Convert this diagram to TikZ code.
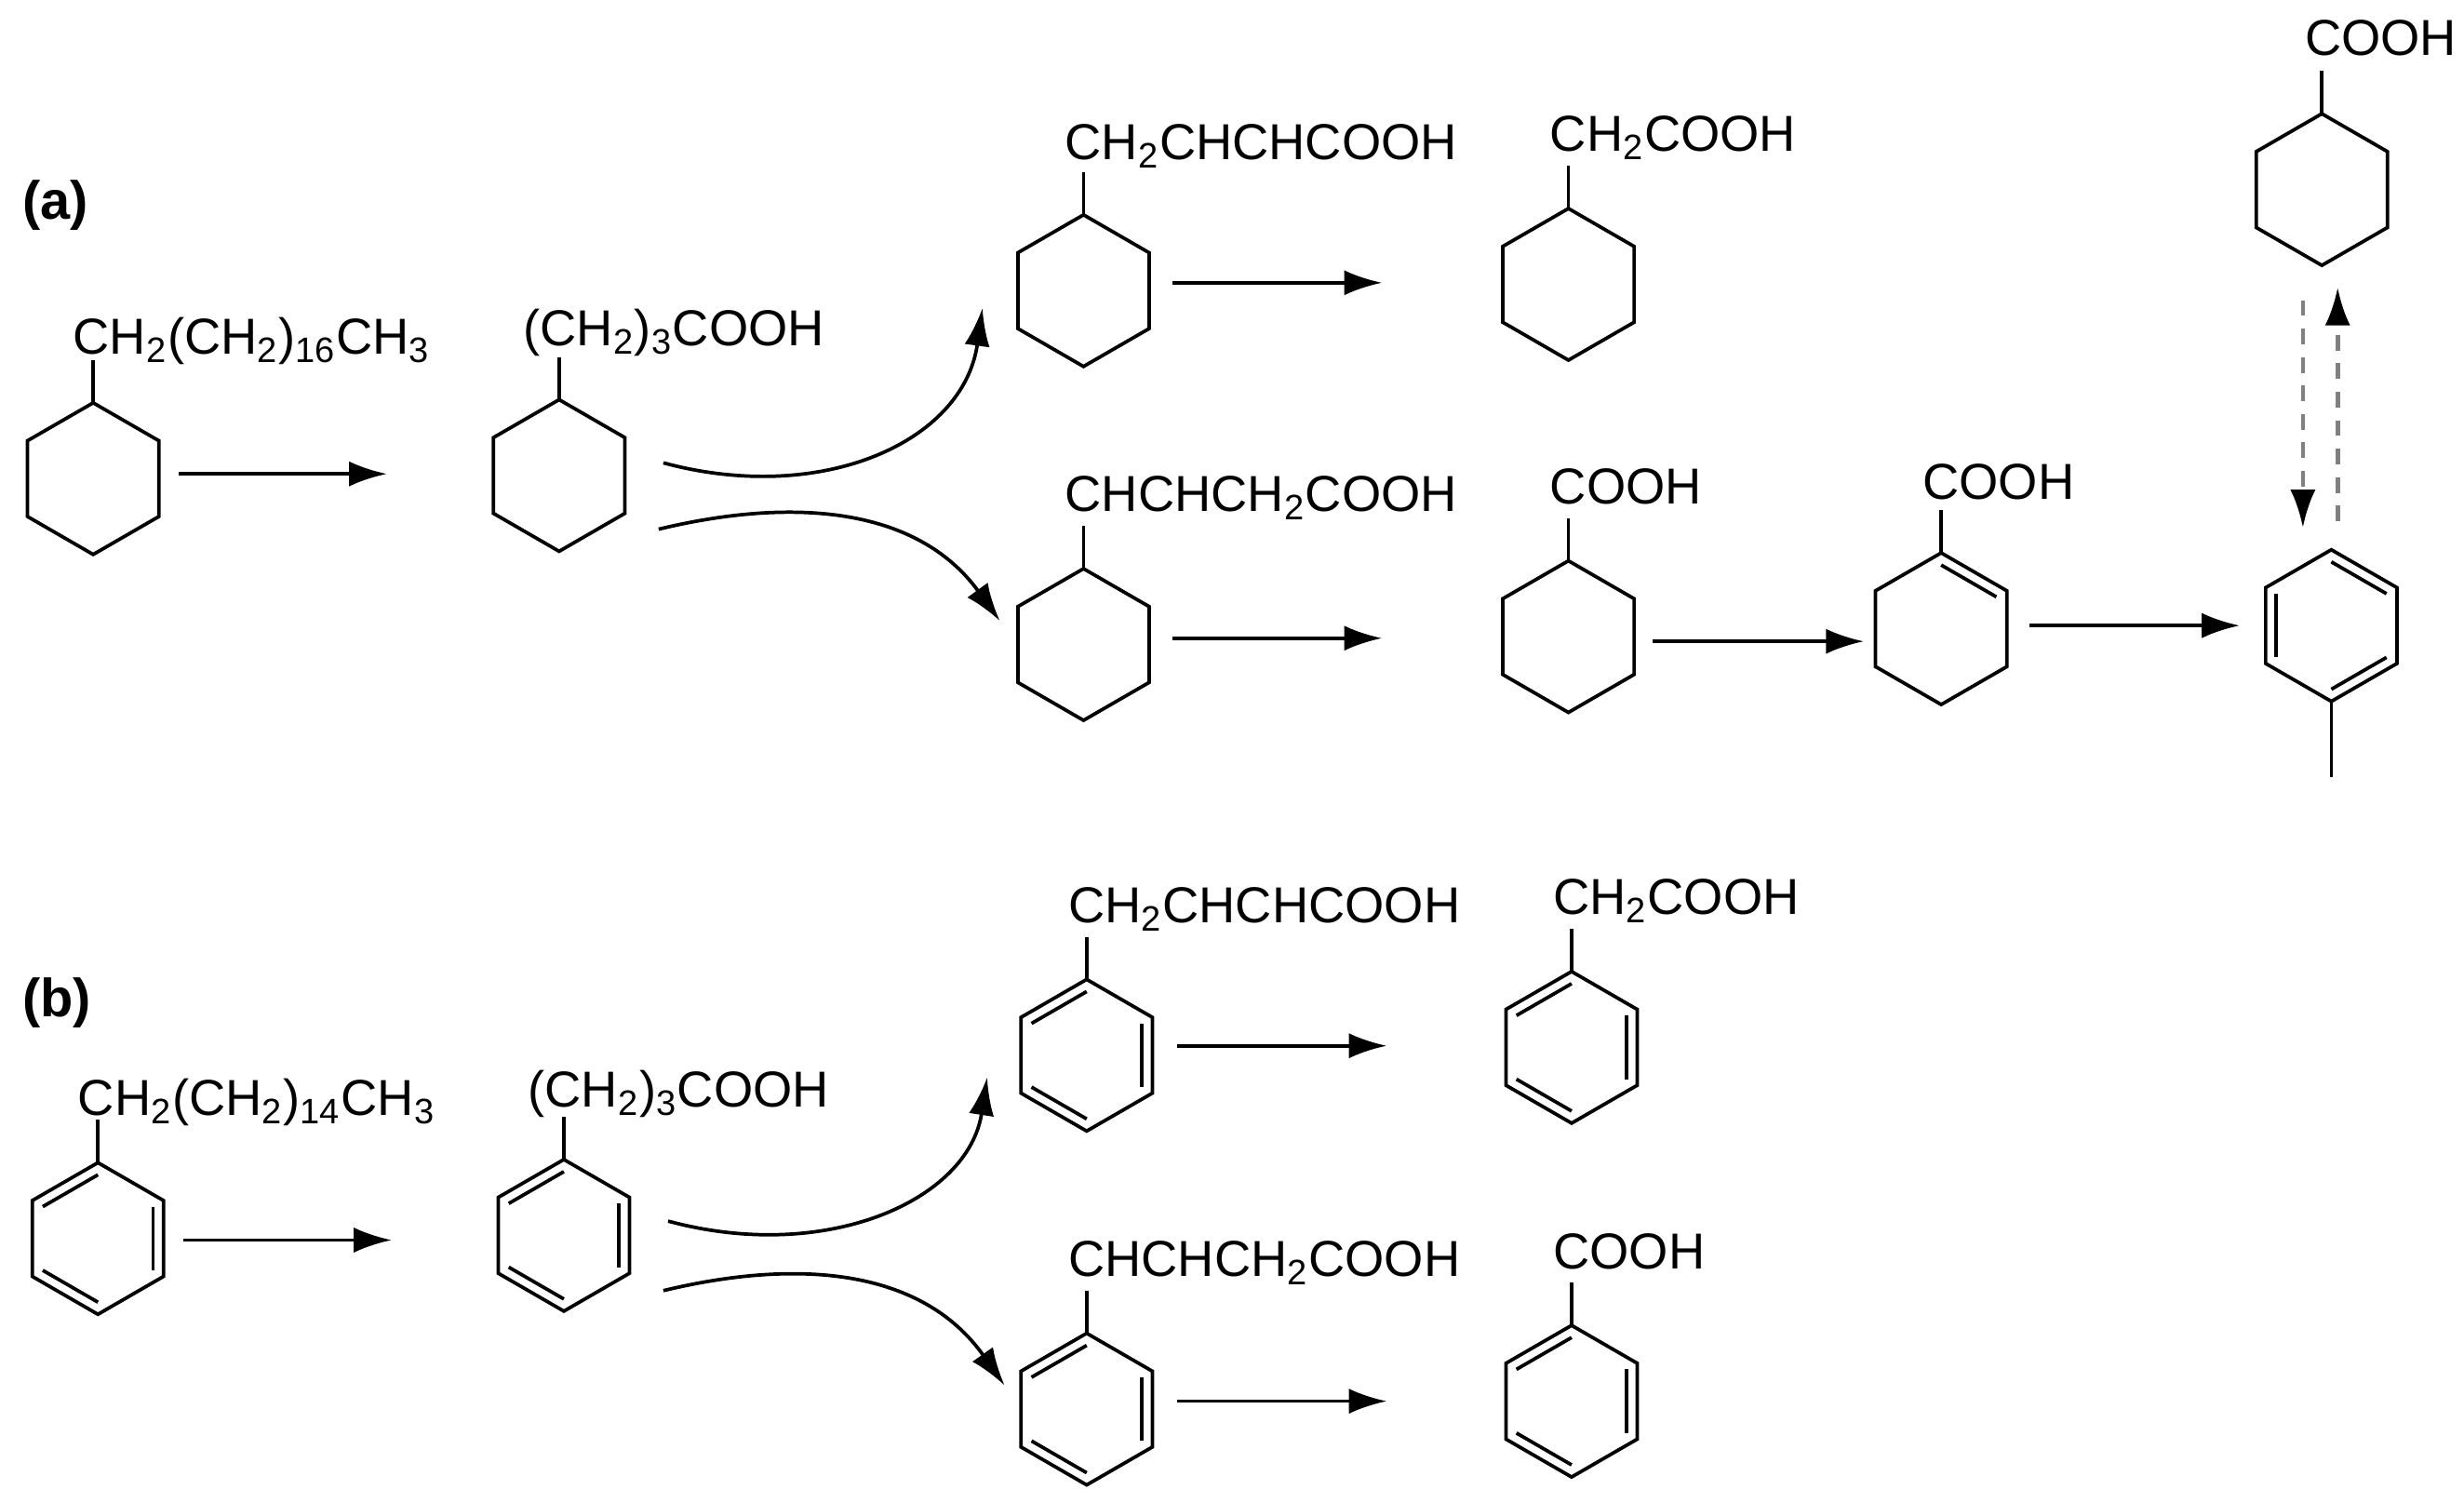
\documentclass[tikz,border=0pt]{standalone}
\usepackage{fontspec}
\setmainfont{Liberation Sans}
\usetikzlibrary{arrows.meta,calc}
\newcommand{\chsub}[1]{\textsubscript{#1}}
\newcommand{\hexring}[3]{%
  \coordinate (#1) at (#2,#3);
  \draw[bond] ($(#1)+(0,-48)$) -- ++(30:48) -- ++(90:48) -- ++(150:48) -- ++(210:48) -- ++(270:48) -- cycle;
  \coordinate (#1-t) at ($(#1)+(0,-48)$);
  \coordinate (#1-b) at ($(#1)+(0,48)$);
  \coordinate (#1-tr) at ($(#1)+(41.57,-24)$);
  \coordinate (#1-br) at ($(#1)+(41.57,24)$);
  \coordinate (#1-tl) at ($(#1)+(-41.57,-24)$);
  \coordinate (#1-bl) at ($(#1)+(-41.57,24)$);
}
\newcommand{\inner}[3]{%
  \draw[bond] ($(#1)!0.84!(#2)$) -- ($(#1)!0.84!(#3)$);}
\tikzset{x=0.5pt,y=-0.5pt,
  bond/.style={line width=1.1pt,line join=miter},
  rx/.style={line width=1.1pt,-{Latex[length=12pt,width=8pt]}},
  dx/.style={line width=1.4pt,gray,dash pattern=on 5pt off 4pt,-{Latex[length=12pt,width=8pt,color=black]}},
  lab/.style={font=\fontsize{16}{18}\selectfont,inner sep=0pt},
  tag/.style={font=\fontsize{17}{19}\selectfont\bfseries,inner sep=0pt,anchor=west}}
\begin{document}
\begin{tikzpicture}
\useasboundingbox (0,0) rectangle (1560,951);
\node[tag] (ta) at (14,130) {(a)};
\node[tag] (tb) at (14,635) {(b)};
% ---- (a)
\hexring{a1}{59}{303}
\hexring{a2}{354}{301}
\hexring{a3}{686}{184}
\hexring{a4}{993}{180}
\hexring{a5}{686}{408}
\hexring{a6}{993}{403}
\hexring{a7}{1229}{398}
\hexring{a8}{1476}{396}
\hexring{a9}{1470}{120}
\foreach \r in {a1,a2,a3,a4,a5,a6,a7,a9}{\draw[bond] (\r-t) -- ++(0,-27) coordinate (\r-s);}
\draw[bond] (a8-b) -- ++(0,48) coordinate (a8-m);
\inner{a7}{a7-t}{a7-tr}
\inner{a8}{a8-t}{a8-tr}
\inner{a8}{a8-tl}{a8-bl}
\inner{a8}{a8-br}{a8-b}
\node[lab,anchor=base west] (la1) at (46,224) {CH\chsub{2}(CH\chsub{2})\chsub{16}CH\chsub{3}};
\node[lab,anchor=base west] (la2) at (331,219) {(CH\chsub{2})\chsub{3}COOH};
\node[lab,anchor=base west] (la3) at (674,101) {CH\chsub{2}CHCHCOOH};
\node[lab,anchor=base west] (la4) at (981,96) {CH\chsub{2}COOH};
\node[lab,anchor=base west] (la5) at (674,324) {CHCHCH\chsub{2}COOH};
\node[lab,anchor=base west] (la6) at (981,319) {COOH};
\node[lab,anchor=base west] (la7) at (1217,316) {COOH};
\node[lab,anchor=base west] (la9) at (1459,35) {COOH};
\coordinate (p1) at (113,300); \coordinate (p2) at (245,300);
\draw[rx] (p1) -- (p2);
\coordinate (c1) at (420,293); \coordinate (c2) at (622,195);
\draw[rx] (c1) .. controls (520,320) and (610,280) .. (c2);
\coordinate (c3) at (417,335); \coordinate (c4) at (633,393);
\draw[rx] (c3) .. controls (500,315) and (580,320) .. (c4);
\coordinate (p3) at (742,179); \coordinate (p4) at (875,179);
\draw[rx] (p3) -- (p4);
\coordinate (p5) at (742,404); \coordinate (p6) at (875,404);
\draw[rx] (p5) -- (p6);
\coordinate (p7) at (1046,406); \coordinate (p8) at (1180,406);
\draw[rx] (p7) -- (p8);
\coordinate (p9) at (1285,396); \coordinate (p10) at (1418,396);
\draw[rx] (p9) -- (p10);
\coordinate (d1) at (1458,190); \coordinate (d2) at (1458,334);
\draw[dx] (d1) -- (d2);
\coordinate (d3) at (1480,330); \coordinate (d4) at (1480,182);
\draw[dx] (d3) -- (d4);
% ---- (b)
\hexring{b1}{62}{784}
\hexring{b2}{357}{782}
\hexring{b3}{688}{668}
\hexring{b4}{995}{663}
\hexring{b5}{688}{892}
\hexring{b6}{995}{887}
\foreach \r in {b1,b2,b3,b4,b5,b6}{
  \draw[bond] (\r-t) -- ++(0,-27) coordinate (\r-s);
  \inner{\r}{\r-t}{\r-tl}
  \inner{\r}{\r-tr}{\r-br}
  \inner{\r}{\r-bl}{\r-b}}
\node[lab,anchor=base west] (lb1) at (49,706) {CH\chsub{2}(CH\chsub{2})\chsub{14}CH\chsub{3}};
\node[lab,anchor=base west] (lb2) at (334,701) {(CH\chsub{2})\chsub{3}COOH};
\node[lab,anchor=base west] (lb3) at (676,584) {CH\chsub{2}CHCHCOOH};
\node[lab,anchor=base west] (lb4) at (983,579) {CH\chsub{2}COOH};
\node[lab,anchor=base west] (lb5) at (676,808) {CHCHCH\chsub{2}COOH};
\node[lab,anchor=base west] (lb6) at (983,803) {COOH};
\coordinate (q1) at (116,785); \coordinate (q2) at (248,785);
\draw[rx] (q1) -- (q2);
\coordinate (e1) at (423,773); \coordinate (e2) at (625,682);
\draw[rx] (e1) .. controls (523,800) and (613,760) .. (e2);
\coordinate (e3) at (420,817); \coordinate (e4) at (636,877);
\draw[rx] (e3) .. controls (503,797) and (583,802) .. (e4);
\coordinate (q3) at (745,662); \coordinate (q4) at (878,662);
\draw[rx] (q3) -- (q4);
\coordinate (q5) at (745,887); \coordinate (q6) at (878,887);
\draw[rx] (q5) -- (q6);
\end{tikzpicture}
\end{document}
